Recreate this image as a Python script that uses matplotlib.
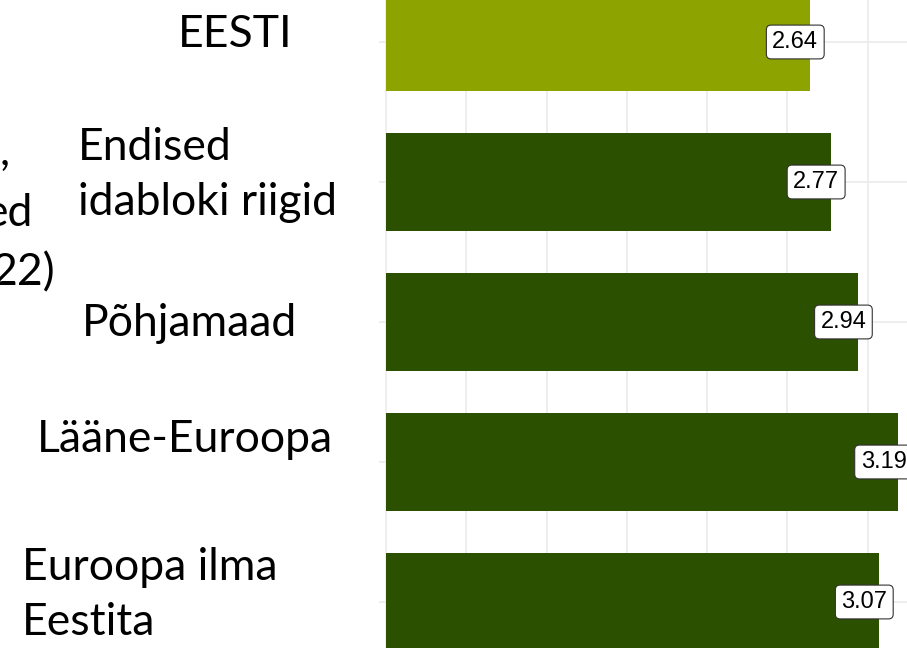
import numpy as np
import matplotlib.pyplot as plt

# andmed (ülalt alla)
kategooriad = ["EESTI", "Endised\nidabloki riigid", "Põhjamaad", "Lääne-Euroopa", "Euroopa ilma\nEestita"]
vaartused = [2.64, 2.77, 2.94, 3.19, 3.07]
varvid = ["#8DA300", "#2B5000", "#2B5000", "#2B5000", "#2B5000"]

W, H = 907, 648
fig = plt.figure(figsize=(W / 100, H / 100), dpi=100)
ax = fig.add_axes([379 / W, 0, (W - 379) / W, 1])

y = np.arange(len(vaartused))
ax.barh(y, vaartused, height=0.7, color=varvid, zorder=2)

# sildid tulpade otstes
for yi, v in zip(y, vaartused):
    ax.text(v - 0.09, yi, f"{v:.2f}", ha="center", va="center", fontsize=17,
            family="Liberation Sans", color="black", zorder=3,
            bbox=dict(boxstyle="round,pad=0.25,rounding_size=0.2", fc="white", ec="#333333", lw=0.8))

px = 160.5  # pikslit ühiku kohta
ax.set_xlim(-7 / px, (W - 379 - 7) / px)
ax.set_ylim((H - 42) / 140, -42 / 140)
ax.set_xticks(np.arange(0, 3.5, 0.5))
ax.set_yticks(y)
ax.grid(True, color="#EBEBEB", lw=1.2, zorder=0)
ax.tick_params(length=0, labelbottom=False, labelleft=False)
for s in ax.spines.values():
    s.set_visible(False)

# vasakpoolsed tekstid
fs = 32
fam = "Lato"
def t(x, ypx, s, **kw):
    fig.text(x / W, 1 - ypx / H, s, fontsize=fs, family=fam, va="baseline", **kw)

t(235, 47, kategooriad[0], ha="center")
t(78, 160, "Endised", ha="left")
t(78, 215, "idabloki riigid", ha="left")
t(82, 336, kategooriad[2], ha="left")
t(37, 452, kategooriad[3], ha="left")
t(22, 580, "Euroopa ilma", ha="left")
t(22, 635, "Eestita", ha="left")

# pooleldi nähtav tekst vasakus servas (ka originaalis serva taha lõigatud)
t(10, 165, ",", ha="right")
t(33, 226, "ed", ha="right")
t(55, 285, "22)", ha="right")

fig.savefig("out.png", dpi=100)
